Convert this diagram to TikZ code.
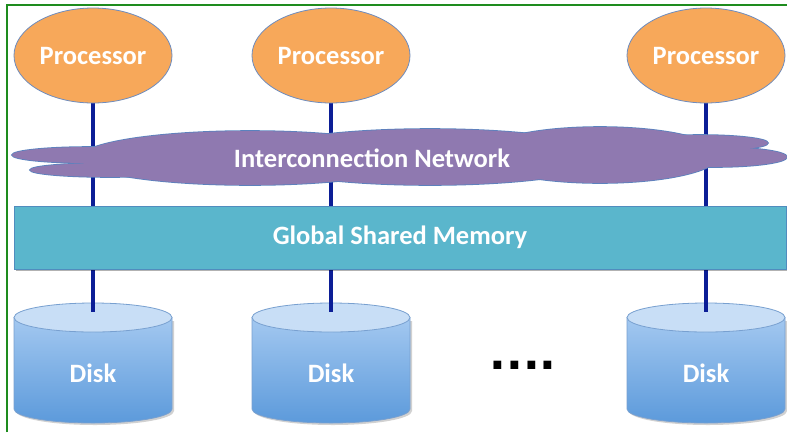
\documentclass[tikz,border=0pt]{standalone}
\usepackage{fontspec}
\setmainfont{Carlito}
\newfontfamily\dotfont{DejaVu Sans}
\usetikzlibrary{shapes.geometric,shadows}
\definecolor{frameGreen}{RGB}{30,140,30}
\definecolor{procFill}{RGB}{247,168,90}
\definecolor{procEdge}{RGB}{110,140,190}
\definecolor{netFill}{RGB}{143,121,176}
\definecolor{netEdge}{RGB}{90,130,190}
\definecolor{memFill}{RGB}{90,182,204}
\definecolor{memEdge}{RGB}{80,140,190}
\definecolor{wire}{RGB}{12,30,150}
\definecolor{diskTop}{RGB}{200,222,246}
\definecolor{diskHi}{RGB}{163,200,240}
\definecolor{diskLo}{RGB}{92,154,219}
\definecolor{diskEdge}{RGB}{120,160,208}
\pgfdeclarelayer{back}
\pgfdeclarelayer{wires}
\pgfsetlayers{back,wires,main}
\tikzset{
  lbl/.style={text=white, font=\fontsize{26.5}{30}\selectfont\bfseries},
  proc/.style={ellipse, draw=procEdge, line width=0.8pt, fill=procFill,
    minimum width=158pt, minimum height=95pt, inner sep=0pt, lbl},
  mem/.style={rectangle, draw=memEdge, line width=0.8pt, fill=memFill,
    minimum width=772pt, minimum height=63pt, inner sep=0pt, lbl,
    drop shadow={shadow xshift=2pt, shadow yshift=-2pt, opacity=0.3, fill=black}},
  wireline/.style={draw=wire, line width=3.2pt},
  diskbody/.style={draw=diskEdge, line width=0.8pt, top color=diskHi, bottom color=diskLo},
  disktop/.style={draw=diskEdge, line width=0.8pt, fill=diskTop},
  cloudpart/.style={fill=netFill},
  cloudrim/.style={draw=netEdge, line width=1.6pt},
}
\newcommand{\drawdisk}[2]{%
  % #1 = centre x, #2 = name
  \begin{pgfonlayer}{back}
    \fill[black, opacity=0.18] (#1-77,321) -- (#1-77,411) arc[start angle=180, end angle=0, x radius=79, y radius=14] -- (#1+81,321) -- cycle;
    \path[diskbody] (#1-79,317.5) -- (#1-79,409) arc[start angle=180, end angle=0, x radius=79, y radius=14] -- (#1+79,317.5) -- cycle;
    \path[disktop] (#1,317.5) ellipse[x radius=79, y radius=14.5];
  \end{pgfonlayer}
  \coordinate (#2top) at (#1,312);
  \node[lbl] (#2) at (#1,373) {Disk};
}
\begin{document}
\begin{tikzpicture}[x=1pt, y=-1pt]
  \useasboundingbox (0,0) rectangle (787,432);
  \begin{pgfonlayer}{back}
    \fill[white] (0,0) rectangle (787,432);
  \end{pgfonlayer}
  % frame
  \draw[frameGreen, line width=1.8pt] (7,432) -- (7,5) -- (787,5);

  % disks
  \drawdisk{93}{d1}
  \drawdisk{331}{d2}
  \drawdisk{706}{d3}

  % ellipsis between the disks
  \node[font=\dotfont\bfseries\fontsize{44}{44}\selectfont, inner sep=0pt, anchor=base] (more) at (523,369) {....};

  % interconnection network cloud
  \foreach \cx/\cy/\rx/\ry in {250/158/170/27, 430/157/180/28, 600/155/120/28,
      90/155/78/8, 110/170/80/7, 700/143/68/8, 715/157/72/10}
    \path[cloudrim] (\cx,\cy) ellipse[x radius=\rx, y radius=\ry];
  \foreach \cx/\cy/\rx/\ry in {250/158/170/27, 430/157/180/28, 600/155/120/28,
      90/155/78/8, 110/170/80/7, 700/143/68/8, 715/157/72/10}
    \path[cloudpart] (\cx,\cy) ellipse[x radius=\rx, y radius=\ry];
  \node[lbl] (net) at (372,158) {Interconnection Network};

  % global memory
  \node[mem] (gm) at (400,237.5) {Global Shared Memory};

  % processors
  \node[proc] (p1) at (93,55.5) {Processor};
  \node[proc] (p2) at (331,55.5) {Processor};
  \node[proc] (p3) at (706,55.5) {Processor};

  % wires from each processor down to its disk
  \begin{pgfonlayer}{wires}
    \draw[wireline] (p1.south) -- (d1top);
    \draw[wireline] (p2.south) -- (d2top);
    \draw[wireline] (p3.south) -- (d3top);
  \end{pgfonlayer}
\end{tikzpicture}
\end{document}
